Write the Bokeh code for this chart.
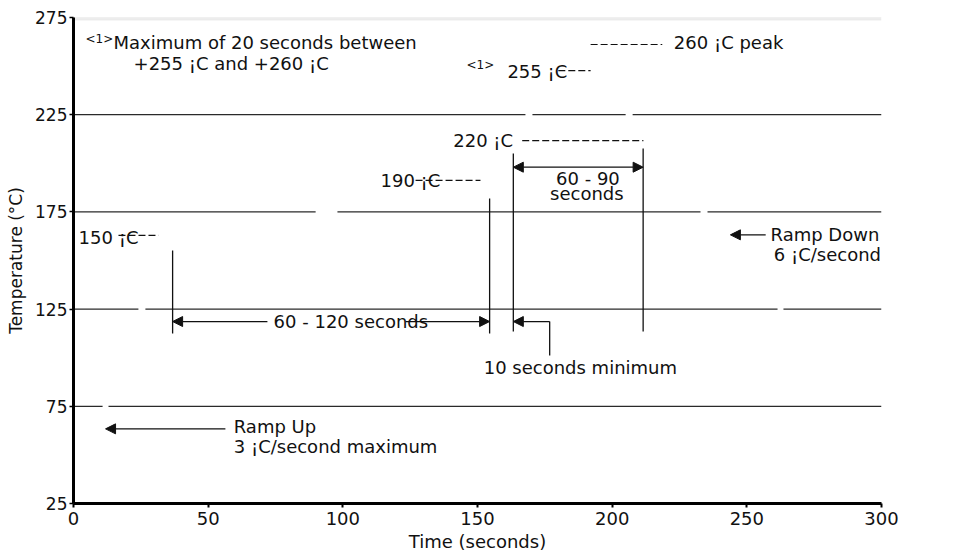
from bokeh.plotting import figure
from bokeh.models import Range1d, FixedTicker, Arrow, NormalHead, ColumnDataSource
from bokeh.core.properties import value
from bokeh.embed import file_html
from bokeh.resources import INLINE

FONT = "DejaVu Sans"
INK = "#111111"

# ---- axis ticks ----
x_ticks = [0, 50, 100, 150, 200, 250, 300]
y_ticks = [25, 75, 125, 175, 225, 275]

# ---- horizontal reference lines (with the gaps seen in the picture) ----
grid_levels = [75, 125, 175, 225]
gap_level = [75, 125, 125, 175, 175, 225, 225]
gap_start = [10.8, 24.1, 261.4, 89.9, 232.8, 167.8, 205.0]
gap_end = [13.0, 26.7, 263.6, 98.0, 235.4, 170.4, 207.6]
top_rule_y = [274.8, 273.8]

# ---- vertical marker lines ----
marker_x = [36.8, 154.5, 163.3, 211.5]
marker_y0 = [112.4, 112.4, 113.5, 113.5]
marker_y1 = [155.1, 181.9, 205.0, 207.6]

# ---- dashed temperature leaders ----
dash_y = [162.9, 191.2, 211.7, 247.7, 261.1]
dash_x0 = [16.7, 127.0, 166.6, 180.0, 192.0]
dash_x1 = [31.6, 151.1, 211.6, 192.0, 218.6]

# ---- arrows ----
arrow_x0 = [72.0, 123.3, 163.3, 176.8, 56.4, 257.0]
arrow_x1 = [36.8, 154.5, 211.5, 163.3, 11.9, 243.9]
arrow_y = [118.6, 118.6, 198.0, 118.6, 63.4, 163.2]
arrow_both = [False, False, True, False, False, False]
leader_x = [176.8, 176.8]
leader_y = [118.6, 101.1]

# ---- annotation texts (left aligned) ----
note_text = ["Maximum of 20 seconds between", "+255 ¡C and +260 ¡C", "255 ¡C", "260 ¡C peak",
             "220 ¡C", "190 ¡C", "150 ¡C", "60 - 120 seconds", "10 seconds minimum",
             "Ramp Up", "3 ¡C/second maximum", "Ramp Down", "6 ¡C/second"]
note_x = [14.85, 22.3, 161.1, 222.9, 141.0, 114.0, 1.9, 74.3, 152.3, 59.5, 59.5, 258.8, 260.0]
note_y = [262.1, 251.3, 247.2, 262.1, 211.7, 191.2, 161.8, 118.6, 95.2, 64.6, 54.3, 163.4, 153.1]

# centred texts
center_text = ["60 - 90", "seconds"]
center_x = [191.0, 190.6]
center_y = [192.2, 184.5]

# footnote markers
mark_text = ["<1>", "<1>"]
mark_x = [4.46, 145.9]
mark_y = [264.1, 250.8]

p = figure(width=956, height=557, x_range=Range1d(0, 300), y_range=Range1d(25, 275),
           output_backend="svg", toolbar_location=None,
           min_border_left=73, min_border_right=75, min_border_top=17, min_border_bottom=54)
p.outline_line_color = None
p.xgrid.visible = False
p.ygrid.visible = False
p.background_fill_color = "white"
p.border_fill_color = "white"

# axes
p.xaxis.ticker = FixedTicker(ticks=x_ticks)
p.xaxis.major_label_text_font = FONT
p.xaxis.major_label_text_font_size = "18px"
p.xaxis.major_label_text_color = INK
p.xaxis.major_label_standoff = 4
p.xaxis.axis_label = "Time (seconds)"
p.xaxis.axis_label_standoff = 3
p.xaxis.axis_label_text_font = FONT
p.xaxis.axis_label_text_font_size = "18px"
p.xaxis.axis_label_text_font_style = "normal"
p.xaxis.axis_label_text_color = INK
p.xaxis.axis_line_width = 3
p.xaxis.axis_line_color = "black"
p.xaxis.major_tick_in = 0
p.xaxis.major_tick_out = 4
p.xaxis.major_tick_line_width = 2
p.xaxis.minor_tick_line_color = None

p.yaxis.ticker = FixedTicker(ticks=y_ticks)
p.yaxis.axis_label = "Temperature (°C)"
p.yaxis.axis_label_standoff = 6
p.yaxis.axis_label_text_font = FONT
p.yaxis.axis_label_text_font_size = "17px"
p.yaxis.axis_label_text_font_style = "normal"
p.yaxis.axis_label_text_color = INK
p.yaxis.major_label_text_font = FONT
p.yaxis.major_label_text_font_size = "17px"
p.yaxis.major_label_text_color = INK
p.yaxis.major_label_standoff = 2
p.yaxis.axis_line_width = 3
p.yaxis.axis_line_color = "black"
p.yaxis.major_tick_in = 0
p.yaxis.major_tick_out = 4
p.yaxis.major_tick_line_width = 1.5
p.yaxis.minor_tick_line_color = None

# top light rule
for yy, col in zip(top_rule_y, ["#cfcfcf", "#e2e2e2"]):
    p.segment(x0=[0], y0=[yy], x1=[300], y1=[yy], line_color=col, line_width=1)

# horizontal reference lines with gaps
gx, gy = [], []
for lvl in grid_levels:
    gs = sorted([(s, e) for L, s, e in zip(gap_level, gap_start, gap_end) if L == lvl])
    cur = 0
    for s, e in gs:
        gx.append([cur, s]); gy.append([lvl, lvl])
        cur = e
    gx.append([cur, 300]); gy.append([lvl, lvl])
p.multi_line(xs=gx, ys=gy, line_color="#2a2a2a", line_width=1.2)

# vertical markers
p.segment(x0=marker_x, y0=marker_y0, x1=marker_x, y1=marker_y1, line_color=INK, line_width=1.3)

# dashed leaders
p.segment(x0=dash_x0, y0=dash_y, x1=dash_x1, y1=dash_y, line_color=INK, line_width=1.2,
          line_dash="7 3")

# leader for "10 seconds minimum"
p.line(x=leader_x, y=leader_y, line_color=INK, line_width=1.3)

# arrows
for x0, x1, yy, both in zip(arrow_x0, arrow_x1, arrow_y, arrow_both):
    end = NormalHead(size=10, fill_color=INK, line_color=INK, line_width=1)
    start = NormalHead(size=10, fill_color=INK, line_color=INK, line_width=1) if both else None
    p.add_layout(Arrow(x_start=x0, y_start=yy, x_end=x1, y_end=yy, end=end, start=start,
                       line_color=INK, line_width=1.3))

# texts
src_notes = ColumnDataSource(dict(x=note_x, y=note_y, t=note_text))
p.text(x="x", y="y", text="t", source=src_notes, text_font=value(FONT),
       text_font_size="18px", text_align="left", text_baseline="middle", text_color=INK)

src_center = ColumnDataSource(dict(x=center_x, y=center_y, t=center_text))
p.text(x="x", y="y", text="t", source=src_center, text_font=value(FONT),
       text_font_size="18px", text_align="center", text_baseline="middle", text_color=INK)

src_marks = ColumnDataSource(dict(x=mark_x, y=mark_y, t=mark_text))
p.text(x="x", y="y", text="t", source=src_marks, text_font=value(FONT),
       text_font_size="12px", text_align="left", text_baseline="middle", text_color=INK)

open("out.html", "w").write(file_html(p, INLINE))
